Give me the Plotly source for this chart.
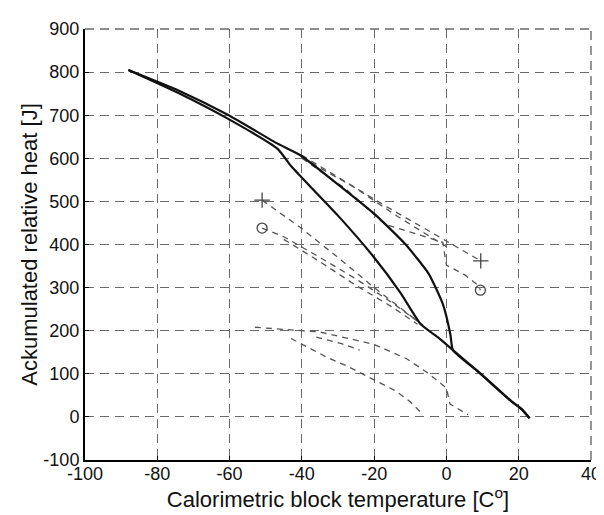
import plotly.graph_objects as go

# Main measured curves (solid)
outer_x = [-88, -74, -60.5, -46.7, -40.4, -31, -19.8, -11.4, -4.9, -1, 1.1, 1.8, 8.8, 18, 20.8, 23]
outer_y = [805, 757, 701, 634, 607, 546, 470, 401, 332, 262, 191, 155, 105, 36, 18, -3]
inner_x = [-88, -74, -60.5, -46.7, -43, -40, -30, -20.5, -12.8, -7.1, -2.4, 1.8, 8.8, 18, 20.8, 23]
inner_y = [805, 751, 692, 622, 582, 555, 467, 375, 289, 215, 185, 155, 105, 36, 18, -3]

# Dashed model curves
d1_x = [-51, -40.5, -30, -20, -10, -6]
d1_y = [503, 440, 370, 300, 235, 210]
d2_x = [-51, -45, -35, -25, -15, -8]
d2_y = [438, 418, 370, 320, 265, 222]
d3_x = [-45, -35, -25, -15, -8]
d3_y = [412, 360, 305, 255, 215]
d4_x = [-40, -17, 9.5]
d4_y = [607, 490, 362]
d5_x = [-40, -28, -17, -1, 0, 5, 8.8, 9.4]
d5_y = [600, 530, 447, 405, 352, 330, 305, 294]
d6_x = [-40, -25, -13.5, -3, 0]
d6_y = [602, 530, 465, 410, 395]
l1_x = [-53, -45, -35, -24, -20, -11, -5, 0, 1, 6]
l1_y = [208, 203, 197, 176, 168, 135, 101, 67, 30, 5]
l2_x = [-43, -33, -27.5, -19, -14, -10, -7]
l2_y = [182, 138, 118, 82, 60, 35, 10]
l3_x = [-36, -29, -24]
l3_y = [185, 170, 155]

# Markers
plus_x = [-51, 9.5]
plus_y = [503, 362]
circ_x = [-51, 9.4]
circ_y = [438, 294]

x_ticks = [-100, -80, -60, -40, -20, 0, 20, 40]
y_ticks = [-100, 0, 100, 200, 300, 400, 500, 600, 700, 800, 900]
x_labels = ["-100", "-80", "-60", "-40", "-20", "0", "20", "40"]
y_labels = ["-100", "0", "100", "200", "300", "400", "500", "600", "700", "800", "900"]

FONT = "Liberation Sans, Arial, sans-serif"
fig = go.Figure()

dash_style = dict(color="#555555", width=1.3, dash="6px,5px")
for xs, ys in [(d1_x, d1_y), (d2_x, d2_y), (d3_x, d3_y), (d4_x, d4_y), (d5_x, d5_y),
               (d6_x, d6_y), (l1_x, l1_y), (l2_x, l2_y), (l3_x, l3_y)]:
    fig.add_trace(go.Scatter(x=xs, y=ys, mode="lines", line=dash_style, hoverinfo="skip"))

fig.add_trace(go.Scatter(x=outer_x, y=outer_y, mode="lines",
                         line=dict(color="#111111", width=2.2, shape="spline", smoothing=0.5)))
fig.add_trace(go.Scatter(x=inner_x, y=inner_y, mode="lines",
                         line=dict(color="#111111", width=2.2, shape="spline", smoothing=0.5)))

fig.add_trace(go.Scatter(x=plus_x, y=plus_y, mode="markers",
                         marker=dict(symbol="cross-thin-open", size=11, color="#444444",
                                     line=dict(color="#444444", width=1.3))))
fig.add_trace(go.Scatter(x=circ_x, y=circ_y, mode="markers",
                         marker=dict(symbol="circle-open", size=10, color="#444444",
                                     line=dict(color="#444444", width=1.3))))

grid = dict(showgrid=True, gridcolor="#6a6a6a", gridwidth=1.4, griddash="9px,6px",
            zeroline=False, showline=True, linecolor="black", linewidth=2,
            ticks="inside", ticklen=4, tickcolor="black", automargin=False,
            ticklabeloverflow="allow",
            tickfont=dict(family=FONT, size=18, color="#111"))

fig.update_xaxes(range=[-100, 40], tickvals=x_ticks, ticktext=x_labels, **grid,
                 ticklabelstandoff=-4,
                 title=dict(text="Calorimetric block temperature [C<sup>o</sup>]",
                            font=dict(family=FONT, size=22, color="#111"),
                            standoff=0))
fig.update_yaxes(range=[-100, 900], tickvals=y_ticks, ticktext=y_labels, **grid,
                 title=dict(text="Ackumulated relative heat [J]",
                            font=dict(family=FONT, size=22, color="#111"),
                            standoff=0))

# top and right dashed border gridlines
fig.add_shape(type="line", xref="paper", yref="paper", x0=0, x1=1, y0=1, y1=1,
              line=dict(color="#6a6a6a", width=1.4, dash="9px,6px"))
fig.add_shape(type="line", xref="paper", yref="paper", x0=1, x1=1, y0=0, y1=1,
              line=dict(color="#6a6a6a", width=1.4, dash="9px,6px"))

fig.update_layout(width=604, height=515, showlegend=False,
                  margin=dict(l=77, r=21, t=21, b=63, autoexpand=False),
                  plot_bgcolor="white", paper_bgcolor="white")

fig.write_html("out.html")
